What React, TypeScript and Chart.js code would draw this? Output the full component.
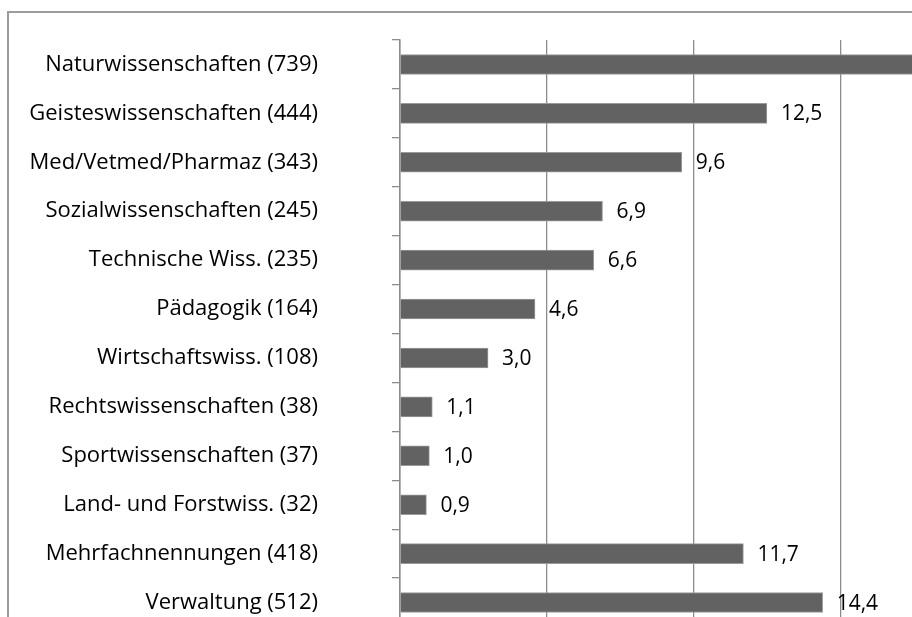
import React, { useEffect, useRef } from "react";
import { Chart, registerables } from "chart.js";

Chart.register(...registerables);

const categories = [
  "Naturwissenschaften (739)",
  "Geisteswissenschaften (444)",
  "Med/Vetmed/Pharmaz (343)",
  "Sozialwissenschaften (245)",
  "Technische Wiss. (235)",
  "Pädagogik (164)",
  "Wirtschaftswiss. (108)",
  "Rechtswissenschaften (38)",
  "Sportwissenschaften (37)",
  "Land- und Forstwiss. (32)",
  "Mehrfachnennungen (418)",
  "Verwaltung (512)",
];
const percentValues = [20.8, 12.5, 9.6, 6.9, 6.6, 4.6, 3.0, 1.1, 1.0, 0.9, 11.7, 14.4];
const xTickValues = [0, 5, 10, 15, 20];

const FONT = "'Open Sans', Lato, sans-serif";

const framePlugin = {
  id: "frame",
  beforeDraw(chart: any) {
    const ctx = chart.ctx;
    ctx.save();
    ctx.strokeStyle = "#9c9c9c";
    ctx.lineWidth = 2;
    ctx.strokeRect(8, 12, 2000, 2000);
    ctx.restore();
  },
};

const labelPlugin = {
  id: "barLabels",
  afterDatasetsDraw(chart: any) {
    const ctx = chart.ctx;
    const meta = chart.getDatasetMeta(0);
    ctx.save();
    ctx.font = `21px ${FONT}`;
    ctx.fillStyle = "#000";
    ctx.textAlign = "left";
    ctx.textBaseline = "middle";
    meta.data.forEach((bar: any, i: number) => {
      const txt = percentValues[i].toFixed(1).replace(".", ",");
      ctx.fillText(txt, bar.x + 14, bar.y + 1);
    });
    ctx.restore();
  },
};

export default function App() {
  const ref = useRef<HTMLCanvasElement>(null);
  useEffect(() => {
    if (!ref.current) return;
    const chart = new Chart(ref.current, {
      type: "bar",
      data: {
        labels: categories,
        datasets: [
          {
            data: percentValues,
            backgroundColor: "#626262",
            borderColor: "#9a9a9a",
            borderWidth: 1,
            barThickness: 20,
          },
        ],
      },
      options: {
        indexAxis: "y",
        animation: false,
        responsive: false,
        maintainAspectRatio: false,
        layout: { padding: { top: 40, bottom: 13, right: 13, left: 0 } },
        plugins: { legend: { display: false }, tooltip: { enabled: false } },
        scales: {
          x: {
            min: 0,
            max: 20,
            afterBuildTicks: (scale: any) => {
              scale.ticks = xTickValues.map((v) => ({ value: v }));
            },
            ticks: { display: false },
            grid: { color: "#8c8c8c", lineWidth: 1.3, drawTicks: false },
            border: { display: false },
          },
          y: {
            afterFit: (scale: any) => {
              scale.width = 400;
              scale.paddingTop = 0;
              scale.paddingBottom = 0;
            },
            ticks: {
              color: "#000",
              font: { family: FONT, size: 22 },
              padding: 74,
            },
            grid: {
              drawOnChartArea: false,
              drawTicks: true,
              tickLength: 8,
              color: "#8c8c8c",
              lineWidth: 1.3,
              offset: true,
            },
            border: { display: true, color: "#8c8c8c", width: 1.5 },
          },
        },
      },
      plugins: [framePlugin, labelPlugin],
    });
    return () => chart.destroy();
  }, []);
  return (
    <div
      style={{
        position: "absolute",
        left: 0,
        top: 0,
        width: 912,
        height: 617,
        overflow: "hidden",
        background: "#fff",
      }}
    >
      <canvas ref={ref} width={1000} height={640} style={{ display: "block" }} />
    </div>
  );
}
